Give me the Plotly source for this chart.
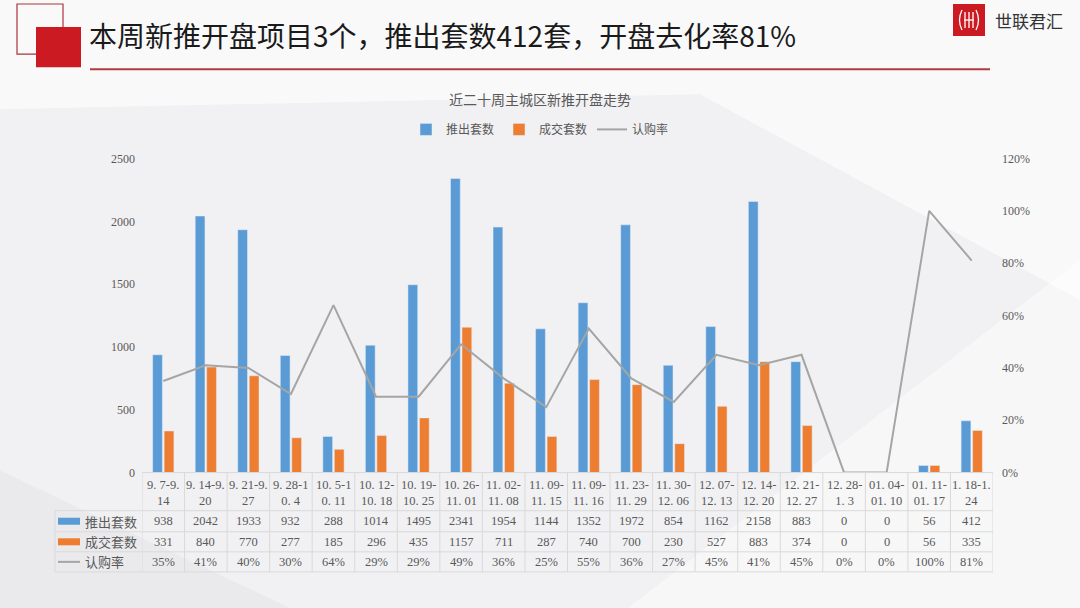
import plotly.graph_objects as go

weeks = ["9. 7-9.<br>14", "9. 14-9.<br>20", "9. 21-9.<br>27", "9. 28-1<br>0. 4",
         "10. 5-1<br>0. 11", "10. 12-<br>10. 18", "10. 19-<br>10. 25", "10. 26-<br>11. 01",
         "11. 02-<br>11. 08", "11. 09-<br>11. 15", "11. 09-<br>11. 16", "11. 23-<br>11. 29",
         "11. 30-<br>12. 06", "12. 07-<br>12. 13", "12. 14-<br>12. 20", "12. 21-<br>12. 27",
         "12. 28-<br>1. 3", "01. 04-<br>01. 10", "01. 11-<br>01. 17", "1. 18-1.<br>24"]
launched = [938, 2042, 1933, 932, 288, 1014, 1495, 2341, 1954, 1144,
            1352, 1972, 854, 1162, 2158, 883, 0, 0, 56, 412]
sold = [331, 840, 770, 277, 185, 296, 435, 1157, 711, 287,
        740, 700, 230, 527, 883, 374, 0, 0, 56, 335]
rate = [35, 41, 40, 30, 64, 29, 29, 49, 36, 25,
        55, 36, 27, 45, 41, 45, 0, 0, 100, 81]

BLUE = "#5b9bd5"
ORANGE = "#ed7d31"
GREY = "#a5a5a5"
TXT = "#595959"
W, H = 1080, 608
NUM_FONT = "Liberation Serif, Noto Sans CJK SC"
CJK = "Noto Sans CJK SC"

def py(px):
    # pixel row (from top) -> paper fraction
    return 1 - (px - 8) / (H - 16)

def pxx(px):
    return px / W

def label(text, x, y, size, color=TXT, family=CJK, xanchor="center", xref="paper"):
    return dict(text=text, x=x, y=y, xref=xref, yref="paper", xanchor=xanchor,
                yanchor="middle", showarrow=False,
                font=dict(family=family, size=size, color=color))

x_idx = list(range(len(weeks)))

fig = go.Figure()
fig.add_trace(go.Bar(x=x_idx, y=launched, name="推出套数", marker_color=BLUE))
fig.add_trace(go.Bar(x=x_idx, y=sold, name="成交套数", marker_color=ORANGE))
fig.add_trace(go.Scatter(x=x_idx, y=[r / 100 for r in rate], name="认购率", yaxis="y2",
                         mode="lines", line=dict(color=GREY, width=2)))

shapes = []
annotations = []

# background decoration
shapes += [
    dict(type="path", xref="paper", yref="paper", layer="below", line_width=0,
         fillcolor="rgba(255,255,255,0.6)",
         path=f"M 0 1.1 L 1 1.1 L 1 {py(300)} L {pxx(700)} {py(95)} L 0 {py(110)} Z"),
    dict(type="path", xref="paper", yref="paper", layer="below", line_width=0,
         fillcolor="rgba(255,255,255,0.45)",
         path=f"M {pxx(560)} -0.1 L 1 {py(260)} L 1 -0.1 Z"),
    dict(type="path", xref="paper", yref="paper", layer="below", line_width=0,
         fillcolor="rgba(228,228,232,0.5)",
         path=f"M 0 {py(470)} L {pxx(400)} -0.1 L 0 -0.1 Z"),
]

# header
shapes += [
    dict(type="rect", xref="paper", yref="paper", x0=pxx(17), x1=pxx(63), y0=py(55), y1=py(5),
         line=dict(color="#a8343a", width=1.2), fillcolor="rgba(0,0,0,0)"),
    dict(type="rect", xref="paper", yref="paper", x0=pxx(36), x1=pxx(81), y0=py(68), y1=py(28),
         line_width=0, fillcolor="#cc1a22"),
    dict(type="line", xref="paper", yref="paper", x0=pxx(90), x1=pxx(990), y0=py(70), y1=py(70),
         line=dict(color="#b23a40", width=2)),
    dict(type="rect", xref="paper", yref="paper", x0=pxx(953), x1=pxx(985), y0=py(37), y1=py(5),
         line_width=0, fillcolor="#cc1a22"),
]
# logo glyph: brackets with vertical strokes
lg = dict(color="white", width=1.3)
shapes += [
    dict(type="path", xref="paper", yref="paper", line=lg,
         path=f"M {pxx(962)} {py(11)} Q {pxx(957)} {py(21)} {pxx(962)} {py(31)}"),
    dict(type="path", xref="paper", yref="paper", line=lg,
         path=f"M {pxx(976)} {py(11)} Q {pxx(981)} {py(21)} {pxx(976)} {py(31)}"),
]
for xx in (965, 969, 973):
    shapes.append(dict(type="line", xref="paper", yref="paper", x0=pxx(xx), x1=pxx(xx),
                       y0=py(13), y1=py(29), line=lg))
shapes.append(dict(type="line", xref="paper", yref="paper", x0=pxx(964), x1=pxx(974),
                   y0=py(21), y1=py(21), line=lg))

annotations += [
    label("本周新推开盘项目3个，推出套数412套，开盘去化率81%", pxx(87), py(36), 28,
          color="#1a1a1a", xanchor="left"),
    label("世联君汇", pxx(993), py(21), 17, color="#333333", xanchor="left"),
    label("近二十周主城区新推开盘走势", pxx(540), py(100), 14),
]

# data table under the chart
top, r0, r1, r2, r3 = 472, 510, 531, 551, 571
for i in range(len(weeks) + 1):
    shapes.append(dict(type="line", xref="x", yref="paper", x0=i - 0.5, x1=i - 0.5,
                       y0=py(top), y1=py(r3), line=dict(color="#d9d9d9", width=1)))
for yy in (r0, r1, r2, r3):
    shapes.append(dict(type="line", xref="paper", yref="paper", x0=pxx(55), x1=pxx(993),
                       y0=py(yy), y1=py(yy), line=dict(color="#d9d9d9", width=1)))
shapes.append(dict(type="line", xref="paper", yref="paper", x0=pxx(142), x1=pxx(993),
                   y0=py(top), y1=py(top), line=dict(color="#d9d9d9", width=1)))
shapes.append(dict(type="line", xref="paper", yref="paper", x0=pxx(55), x1=pxx(55),
                   y0=py(r0), y1=py(r3), line=dict(color="#d9d9d9", width=1)))

for i, lab in enumerate(weeks):
    annotations.append(label(lab, i, py((top + r0) / 2 + 1), 12.5, family=NUM_FONT, xref="x"))
rows = [(launched, "{}", (r0 + r1) / 2), (sold, "{}", (r1 + r2) / 2), (rate, "{}%", (r2 + r3) / 2)]
for vals, fmt, yc in rows:
    for i, v in enumerate(vals):
        annotations.append(label(fmt.format(v), i, py(yc), 12.5, family=NUM_FONT, xref="x"))

row_names = ["推出套数", "成交套数", "认购率"]
row_y = [(r0 + r1) / 2, (r1 + r2) / 2, (r2 + r3) / 2]
for name, yc, col in zip(row_names, row_y, [BLUE, ORANGE, GREY]):
    if col == GREY:
        shapes.append(dict(type="line", xref="paper", yref="paper", x0=pxx(58), x1=pxx(80),
                           y0=py(yc), y1=py(yc), line=dict(color=col, width=2)))
    else:
        shapes.append(dict(type="rect", xref="paper", yref="paper", x0=pxx(58), x1=pxx(80),
                           y0=py(yc + 3.5), y1=py(yc - 3.5), line_width=0, fillcolor=col))
    annotations.append(label(name, pxx(83), py(yc), 13, xanchor="left"))

fig.update_layout(
    width=W, height=H,
    margin=dict(l=0, r=0, t=0, b=0),
    paper_bgcolor="#f1f1f3",
    plot_bgcolor="rgba(0,0,0,0)",
    barmode="group", bargap=0.46, bargroupgap=0.15,
    font=dict(family=NUM_FONT, color=TXT),
    xaxis=dict(domain=[pxx(142), pxx(993)], range=[-0.5, len(weeks) - 0.5],
               showticklabels=False, showgrid=False, zeroline=False, ticks=""),
    yaxis=dict(domain=[py(472), py(159)], range=[0, 2500], dtick=500,
               showgrid=False, zeroline=False, showline=False,
               tickfont=dict(size=12, color=TXT), ticklabelstandoff=6),
    yaxis2=dict(overlaying="y", side="right", range=[0, 1.2], dtick=0.2, tickformat=".0%",
                showgrid=False, zeroline=False, showline=False,
                tickfont=dict(size=12, color=TXT), ticklabelstandoff=8),
    legend=dict(orientation="h", x=0.5, xanchor="center", y=py(130), yanchor="middle",
                font=dict(family=CJK, size=12, color=TXT), bgcolor="rgba(0,0,0,0)",
                traceorder="normal"),
    shapes=shapes,
    annotations=annotations,
)

fig.write_html(
    "out.html",
    config={"displayModeBar": False},
    post_script="document.body.style.margin='0';",
)
